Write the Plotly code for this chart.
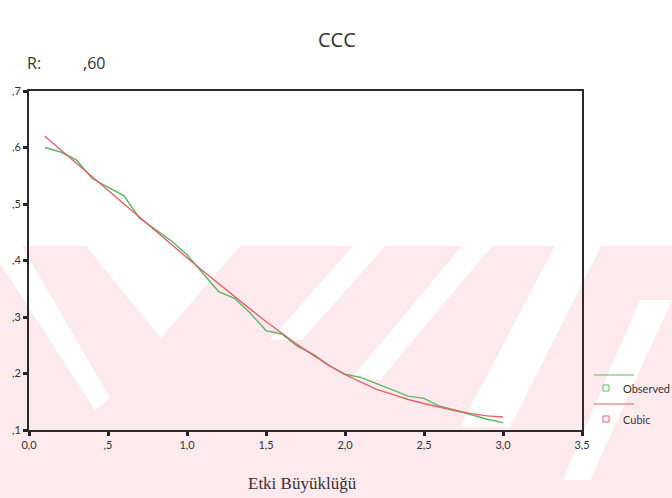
import plotly.graph_objects as go

# ---- data ----
x_vals = [0.1, 0.2, 0.3, 0.4, 0.5, 0.6, 0.7, 0.8, 0.9, 1.0,
          1.1, 1.2, 1.3, 1.4, 1.5, 1.6, 1.7, 1.8, 1.9, 2.0,
          2.1, 2.2, 2.3, 2.4, 2.5, 2.6, 2.7, 2.8, 2.9, 3.0]
observed = [0.600, 0.592, 0.578, 0.545, 0.530, 0.515, 0.475, 0.455, 0.435, 0.410,
            0.378, 0.345, 0.333, 0.307, 0.276, 0.270, 0.248, 0.234, 0.214, 0.199,
            0.193, 0.182, 0.172, 0.160, 0.156, 0.142, 0.135, 0.127, 0.119, 0.113]
cubic = [0.620, 0.596, 0.572, 0.548, 0.524, 0.500, 0.476, 0.452, 0.428, 0.405,
         0.382, 0.359, 0.336, 0.314, 0.292, 0.271, 0.251, 0.232, 0.214, 0.198,
         0.185, 0.172, 0.163, 0.154, 0.147, 0.140, 0.134, 0.129, 0.125, 0.123]

x_ticks = [0.0, 0.5, 1.0, 1.5, 2.0, 2.5, 3.0, 3.5]
x_ticktext = ["0,0", ",5", "1,0", "1,5", "2,0", "2,5", "3,0", "3,5"]
y_ticks = [0.1, 0.2, 0.3, 0.4, 0.5, 0.6, 0.7]
y_ticktext = [",1", ",2", ",3", ",4", ",5", ",6", ",7"]

title_text = "CCC"
r_label = "R:"
r_value = ",60"
x_title = "Etki Büyüklüğü"
series_names = ["Observed", "Cubic"]

GREEN = "#5cb85f"
RED = "#e5616c"
PINK = "#fdeaee"

W, H = 672, 498
L, R, T, B = 29, 582, 91, 430


def px(x):
    return (x - L) / (R - L)


def py(y):
    return (B - y) / (B - T)


def poly(points, color):
    d = "M " + " L ".join(f"{px(a):.4f},{py(b):.4f}" for a, b in points) + " Z"
    return dict(type="path", path=d, xref="paper", yref="paper", layer="below",
                fillcolor=color, line=dict(width=0))


fig = go.Figure()
fig.add_trace(go.Scatter(x=x_vals, y=observed, mode="lines", name=series_names[0],
                         line=dict(color=GREEN, width=1.4), showlegend=False))
fig.add_trace(go.Scatter(x=x_vals, y=cubic, mode="lines", name=series_names[1],
                         line=dict(color=RED, width=1.4), showlegend=False))

axis_common = dict(showgrid=False, zeroline=False, showline=True, mirror=True,
                   linecolor="#2a2a2a", linewidth=2, ticks="outside", ticklen=4,
                   tickwidth=3, tickcolor="#222",
                   tickfont=dict(family="Lato, Open Sans, sans-serif", size=11, color="#333"))

fig.update_layout(
    width=W, height=H,
    margin=dict(l=L, r=W - R, t=T, b=H - B),
    paper_bgcolor="white", plot_bgcolor="rgba(0,0,0,0)",
    xaxis=dict(range=[0, 3.5], tickvals=x_ticks, ticktext=x_ticktext, **axis_common),
    yaxis=dict(range=[0.1, 0.7], tickvals=y_ticks, ticktext=y_ticktext, **axis_common),
)

annotations = [
    dict(text=title_text, x=px(337), y=py(40), xanchor="center", yanchor="middle",
         font=dict(family="Open Sans, sans-serif", size=20, color="#333")),
    dict(text=r_label, x=px(25), y=py(63), xanchor="left", yanchor="middle",
         font=dict(family="Open Sans, sans-serif", size=16, color="#333")),
    dict(text=r_value, x=px(81), y=py(63), xanchor="left", yanchor="middle",
         font=dict(family="Open Sans, sans-serif", size=16, color="#333")),
    dict(text=x_title, x=px(302), y=py(483), xanchor="center", yanchor="middle",
         font=dict(family="Liberation Serif, serif", size=17, color="#333")),
    dict(text=series_names[0], x=px(621), y=py(388), xanchor="left", yanchor="middle",
         font=dict(family="Lato, Open Sans, sans-serif", size=11, color="#333")),
    dict(text=series_names[1], x=px(621), y=py(419), xanchor="left", yanchor="middle",
         font=dict(family="Lato, Open Sans, sans-serif", size=11, color="#333")),
]
for a in annotations:
    a.update(xref="paper", yref="paper", showarrow=False)
fig.update_layout(annotations=annotations)

# faint background watermark (pink field with white diagonal gaps)
shapes = [
    poly([(0, 246), (W, 246), (W, H), (0, H)], PINK),
    poly([(86, 246), (240, 246), (161, 338)], "white"),
    poly([(0, 263), (0, 246), (22, 246), (110, 398), (95, 410)], "white"),
    poly([(353, 246), (385, 246), (302, 340), (270, 340)], "white"),
    poly([(462, 246), (492, 246), (380, 380), (350, 380)], "white"),
    poly([(555, 246), (601, 246), (510, 427), (460, 427)], "white"),
    poly([(640, 300), (672, 300), (590, 480), (563, 480)], "white"),
]

legend_shapes = [
    dict(type="line", x0=px(594), x1=px(634), y0=py(375), y1=py(375),
         line=dict(color=GREEN, width=1)),
    dict(type="rect", x0=px(603), x1=px(609), y0=py(385), y1=py(391),
         line=dict(color=GREEN, width=1)),
    dict(type="line", x0=px(594), x1=px(634), y0=py(404), y1=py(404),
         line=dict(color=RED, width=1)),
    dict(type="rect", x0=px(603), x1=px(609), y0=py(416), y1=py(422),
         line=dict(color=RED, width=1)),
]
for s in legend_shapes:
    s.update(xref="paper", yref="paper")
fig.update_layout(shapes=shapes + legend_shapes)

fig.write_html("out.html", config={"displayModeBar": False},
               post_script="document.body.style.margin='0';document.body.style.overflow='hidden';")
